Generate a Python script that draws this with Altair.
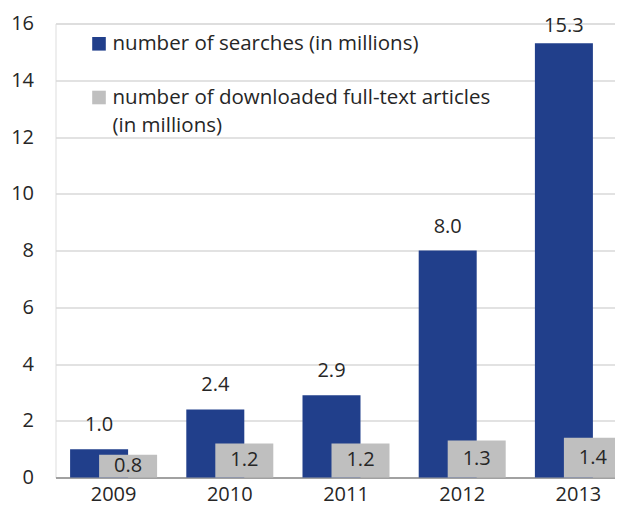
import altair as alt
import pandas as pd

years = ["2009", "2010", "2011", "2012", "2013"]
searches = [1.0, 2.4, 2.9, 8.0, 15.3]
downloads = [0.8, 1.2, 1.2, 1.3, 1.4]
legend_labels = ["number of searches (in millions)",
                 "number of downloaded full-text articles\n(in millions)"]
y_ticks = [0, 2, 4, 6, 8, 10, 12, 14, 16]

BLUE = "#213F8B"
GREY = "#BFBFBF"
FONT = "Open Sans"
FS = 20
TXT = "#262626"

df_s = pd.DataFrame({"year": years, "value": searches})
df_d = pd.DataFrame({"year": years, "value": downloads})

# the reference's plot runs past the right edge of the picture: the band scale is
# laid out over 581 px while the visible plot is narrower
xscale = alt.Scale(domain=years, range=[0, 581], paddingInner=0, paddingOuter=0)
yscale = alt.Scale(domain=[0, 16], nice=False, zero=True)

x_enc = alt.X("year:N", scale=xscale, sort=years,
              axis=alt.Axis(title=None, labelAngle=0, ticks=False, tickSize=0,
                            labelPadding=7, labelFont=FONT, labelFontSize=FS,
                            labelColor=TXT, domainColor="#8C8C8C", domainWidth=1.5,
                            grid=False))
y_enc = alt.Y("value:Q", scale=yscale,
              axis=alt.Axis(title=None, values=y_ticks, ticks=False, tickSize=0,
                            domain=False, labelPadding=22, labelFont=FONT,
                            labelFontSize=FS, labelColor=TXT, gridColor="#D9D9D9",
                            gridWidth=1.5))

bars_s = alt.Chart(df_s).mark_bar(size=58, xOffset=-14.5, color=BLUE).encode(x=x_enc, y=y_enc)
bars_d = alt.Chart(df_d).mark_bar(size=58, xOffset=14.5, color=GREY).encode(x=x_enc, y=y_enc)

# value labels above the search bars (kept inside the plot at the top, as Excel does)
lab_s = alt.Chart(df_s).transform_calculate(ly="min(datum.value, 15.05)").mark_text(
    xOffset=-14.5, dy=-18, baseline="alphabetic", font=FONT, fontSize=FS, color=TXT).encode(
    x=x_enc, y=alt.Y("ly:Q", scale=yscale), text=alt.Text("value:Q", format=".1f"))
# value labels centred inside the download bars
lab_d = alt.Chart(df_d).transform_calculate(half="datum.value / 2").mark_text(
    xOffset=14.5, baseline="middle", font=FONT, fontSize=FS, color=TXT).encode(
    x=x_enc, y=alt.Y("half:Q", scale=yscale), text=alt.Text("value:Q", format=".1f"))

# legend (drawn as marks to keep the Excel-like wrapped label)
LFS = 20.5
leg_df1 = pd.DataFrame({"label": [legend_labels[0]]})
leg_df2 = pd.DataFrame({"label": [legend_labels[1]]})
sq1 = alt.Chart(leg_df1).mark_square(size=185, color=BLUE, opacity=1).encode(
    x=alt.value(43.5), y=alt.value(20.3))
sq2 = alt.Chart(leg_df2).mark_square(size=185, color=GREY, opacity=1).encode(
    x=alt.value(43.5), y=alt.value(74))
tx1 = alt.Chart(leg_df1).mark_text(align="left", baseline="middle", font=FONT,
                                   fontSize=LFS, color=TXT).encode(
    x=alt.value(57), y=alt.value(20.3), text="label:N")
tx2 = alt.Chart(leg_df2).mark_text(align="left", baseline="top", font=FONT, fontSize=LFS,
                                   color=TXT, lineBreak="\n", lineHeight=28).encode(
    x=alt.value(57), y=alt.value(64), text="label:N")

chart = alt.layer(bars_s, bars_d, lab_s, lab_d, sq1, sq2, tx1, tx2).properties(
    width=559.5, height=454,
    autosize=alt.AutoSizeParams(type="none"),
    padding={"left": 47.5, "top": 15.5, "right": 0, "bottom": 28.5},
).configure_view(stroke=None).configure(background="white")

chart.save("out.html", embed_options={"renderer": "svg", "actions": False})
